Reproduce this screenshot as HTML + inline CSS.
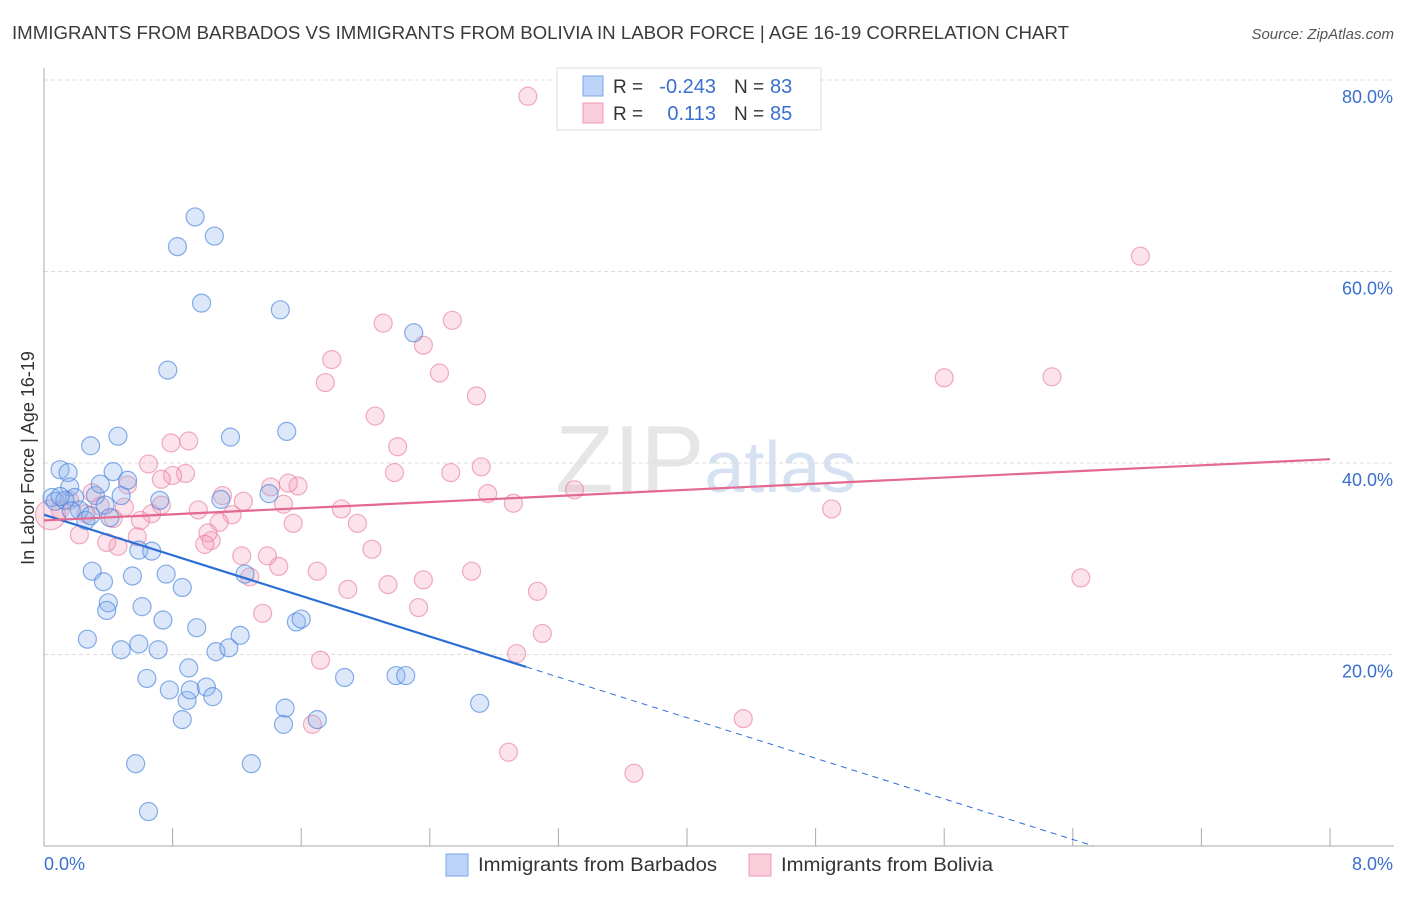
<!DOCTYPE html>
<html><head><meta charset="utf-8"><style>
body{margin:0;background:#fff;font-family:"Liberation Sans",sans-serif;}
svg text{font-family:"Liberation Sans",sans-serif;}
</style></head><body>
<svg id="chart" width="1406" height="892" xmlns="http://www.w3.org/2000/svg">
<text x="12" y="39" font-size="18" fill="#3a3a3a" textLength="1057" lengthAdjust="spacingAndGlyphs">IMMIGRANTS FROM BARBADOS VS IMMIGRANTS FROM BOLIVIA IN LABOR FORCE | AGE 16-19 CORRELATION CHART</text>
<text x="1394" y="39" font-size="15" fill="#555" font-style="italic" text-anchor="end">Source: ZipAtlas.com</text>
<text x="555" y="492" font-size="96" fill="#e6e6e6" font-family="Liberation Serif">ZIP<tspan fill="#d6e2f2" font-family="Liberation Sans" font-size="72">atlas</tspan></text>
<g id="grid"></g><g id="axes"></g><g id="pts"></g><g id="lines"></g>
<text transform="translate(34,458) rotate(-90)" font-size="18" fill="#333" text-anchor="middle">In Labor Force | Age 16-19</text>
<g>
<rect x="557" y="68" width="264" height="62" fill="#fff" stroke="#ddd"/>
<rect x="583" y="76" width="20" height="20" fill="#bcd4f7" stroke="#7aa6e8"/>
<rect x="583" y="103" width="20" height="20" fill="#f9cdd9" stroke="#ee9ab2"/>
<text x="613" y="93" font-size="19" fill="#333">R =</text>
<text x="716" y="93" font-size="20" fill="#3a6fd0" text-anchor="end">-0.243</text>
<text x="734" y="93" font-size="19" fill="#333">N =</text>
<text x="770" y="93" font-size="20" fill="#3a6fd0">83</text>
<text x="613" y="120" font-size="19" fill="#333">R =</text>
<text x="716" y="120" font-size="20" fill="#3a6fd0" text-anchor="end">0.113</text>
<text x="734" y="120" font-size="19" fill="#333">N =</text>
<text x="770" y="120" font-size="20" fill="#3a6fd0">85</text>
</g>
<g>
<rect x="446" y="854" width="22" height="22" fill="#bcd4f7" stroke="#7aa6e8"/>
<text x="478" y="871" font-size="19" fill="#333" textLength="239" lengthAdjust="spacingAndGlyphs">Immigrants from Barbados</text>
<rect x="749" y="854" width="22" height="22" fill="#f9cdd9" stroke="#ee9ab2"/>
<text x="781" y="871" font-size="19" fill="#333" textLength="212" lengthAdjust="spacingAndGlyphs">Immigrants from Bolivia</text>
</g>
</svg>
<script>
const yTicks=[20,40,60,80];
const yTickLabels=["20.0%","40.0%","60.0%","80.0%"];
const xTicks=[0,0.8,1.6,2.4,3.2,4.0,4.8,5.6,6.4,7.2,8.0];
const blueX=[0.05,0.10,0.15,0.16,0.19,0.22,0.26,0.29,0.32,0.35,0.38,0.41,0.43,0.46,0.48,0.52,0.30,0.37,0.40,0.39,0.27,0.48,0.55,0.59,0.61,0.59,0.64,0.57,0.65,0.67,0.71,0.72,0.74,0.76,0.77,0.78,0.83,0.86,0.86,0.89,0.90,0.91,0.94,0.95,0.98,1.01,1.05,1.06,1.07,1.10,1.15,1.16,1.22,1.25,1.29,1.40,1.47,1.49,1.50,1.51,1.57,1.60,1.70,1.87,2.19,2.25,2.30,2.71,0.07,0.13,0.17,0.29,0.10];
const blueY=[36.4,39.3,39.0,37.5,36.4,35.1,34.0,41.8,36.6,37.8,35.6,34.3,39.1,42.8,36.6,38.2,28.7,27.6,25.4,24.6,21.6,20.5,28.2,30.9,25.0,21.1,17.5,8.6,3.6,30.8,20.5,36.1,23.6,28.4,49.7,16.3,62.6,13.2,27.0,15.2,18.6,16.3,65.7,22.8,56.7,16.6,15.6,63.7,20.3,36.2,20.7,42.7,22.0,28.4,8.6,36.8,56.0,12.7,14.4,43.3,23.4,23.7,13.2,17.6,17.8,17.8,53.6,14.9,36.0,36.1,35.0,34.5,36.5];
const pinkX=[3.01,6.82,5.60,6.27,6.45,4.90,4.35,3.67,2.89,2.94,3.10,3.07,3.30,2.92,2.76,2.72,2.69,2.66,2.54,2.53,2.46,2.36,2.33,2.36,2.20,2.18,2.14,2.11,2.06,2.04,1.95,1.89,1.85,1.79,1.75,1.72,1.70,1.67,1.58,1.55,1.52,1.49,1.46,1.41,1.39,1.36,1.28,1.24,1.23,1.17,1.11,1.09,1.04,1.02,1.00,0.96,0.90,0.88,0.80,0.79,0.73,0.73,0.67,0.65,0.60,0.58,0.52,0.50,0.46,0.43,0.39,0.35,0.30,0.26,0.22,0.16,0.10,0.04];
const pinkY=[78.3,61.6,48.9,49.0,28.0,35.2,13.3,7.6,9.8,20.1,22.2,26.6,37.2,35.8,36.8,39.6,47.0,28.7,54.9,39.0,49.4,27.8,24.9,52.3,41.7,39.0,27.3,54.6,44.9,31.0,33.7,26.8,35.2,50.8,48.4,19.4,28.7,12.7,37.6,33.7,37.9,35.7,29.2,37.5,30.3,24.3,28.1,36.0,30.3,34.6,36.6,33.8,31.9,32.7,31.5,35.1,42.3,38.9,38.7,42.1,38.3,35.6,34.7,39.9,34.0,32.3,37.7,35.4,31.3,34.2,31.7,35.5,36.9,34.7,32.5,36.1,35.1,34.6];
const blueTrend=[34.6,-5.3];
const pinkTrend=[34.0,0.8];
const NS="http://www.w3.org/2000/svg";
const sx=v=>44+v*(1286/8), sy=v=>846-v*9.575;
function mk(t,a,p){const e=document.createElementNS(NS,t);for(const k in a)e.setAttribute(k,a[k]);document.getElementById(p).appendChild(e);return e;}
yTicks.forEach((t,i)=>{
 const g=mk('line',{x1:44,x2:1394,y1:sy(t),y2:sy(t),stroke:'#ddd','stroke-dasharray':'4,3'},'grid');
 
 
 const l=mk('text',{x:1393,y:sy(t)+23,'font-size':18,fill:'#3a6fd0','text-anchor':'end'},'grid');
 l.textContent=yTickLabels[i];
 
 
});
const ax=mk('line',{x1:44,x2:44,y1:68,y2:846,stroke:'#aaa'},'axes');


const bx=mk('line',{x1:44,x2:1394,y1:846,y2:846,stroke:'#aaa'},'axes');


xTicks.forEach(t=>{const e=mk('line',{x1:sx(t),x2:sx(t),y1:828,y2:846,stroke:'#aaa'},'axes');
 
 });
const x0=mk('text',{x:44,y:870,'font-size':18,fill:'#3a6fd0'},'axes');x0.textContent='0.0%';


const x1=mk('text',{x:1393,y:870,'font-size':18,fill:'#3a6fd0','text-anchor':'end'},'axes');x1.textContent='8.0%';


pinkX.forEach((v,i)=>{const c=mk('circle',{cx:sx(v),cy:sy(pinkY[i]),r:i==pinkX.length-1?15:9,fill:'rgba(244,160,185,0.3)',stroke:'rgba(232,120,155,0.6)','stroke-width':1.2},'pts');
 
 });
blueX.forEach((v,i)=>{const c=mk('circle',{cx:sx(v),cy:sy(blueY[i]),r:9,fill:'rgba(140,180,240,0.3)',stroke:'rgba(70,130,220,0.65)','stroke-width':1.2},'pts');
 
 });
const bf=x=>blueTrend[0]+blueTrend[1]*x, pf=x=>pinkTrend[0]+pinkTrend[1]*x;
const b1=mk('line',{x1:sx(0),y1:sy(bf(0)),x2:sx(3.0),y2:sy(bf(3.0)),stroke:'#2b6fd6','stroke-width':2.2},'lines');


const xe=-blueTrend[0]/blueTrend[1];
const b2=mk('line',{x1:sx(3.0),y1:sy(bf(3.0)),x2:sx(xe),y2:sy(0),stroke:'#2b6fd6','stroke-width':1,'stroke-dasharray':'6,5'},'lines');


const p1=mk('line',{x1:sx(0),y1:sy(pf(0)),x2:sx(8),y2:sy(pf(8)),stroke:'#e4698f','stroke-width':2.2},'lines');


</script>
</body></html>
